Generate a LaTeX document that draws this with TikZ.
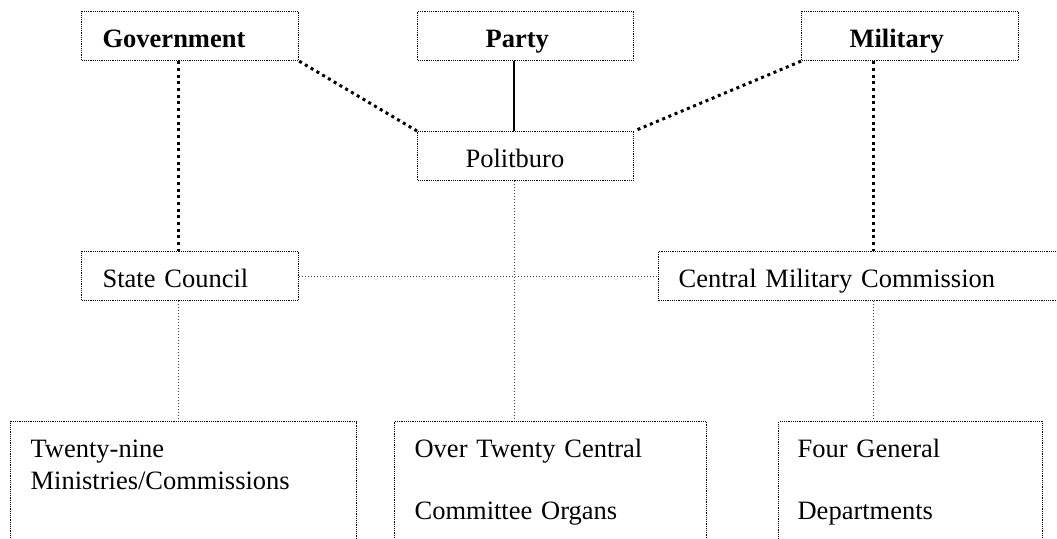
\documentclass[tikz,border=0pt]{standalone}
\usepackage{fontspec}
\setmainfont{Liberation Serif}
\usepackage{tikz}
\tikzstyle{unit} = [draw,line width=1.2pt,dash pattern=on 1.2pt off 1pt,anchor=north west,inner ysep=0pt,inner xsep=20pt,text height=36pt,text depth=13pt,align=left,font=\fontsize{26.5}{32}\selectfont]
\tikzstyle{lowunit} = [unit,text depth=140pt]
\tikzstyle{heavy} = [line width=3pt,dash pattern=on 3pt off 3.7pt]
\tikzstyle{light} = [line width=0.9pt,black!75,dash pattern=on 1pt off 2pt]
\tikzstyle{firm} = [line width=1.3pt]

\begin{document}
\begin{tikzpicture}[x=1pt,y=-1pt]
	\useasboundingbox (0,0) rectangle (1057,538);
	\clip (0,0) rectangle (1057,538);
	
	% Top row:
	\node[unit,inner xsep=21pt,text width=175pt] (gov) at (81,11) {\textbf{Government}};
	\node[unit,inner xsep=68pt,text width=80pt] (party) at (417,11) {\textbf{Party}};
	\node[unit,inner xsep=48pt,text width=121pt] (mil) at (801,11) {\textbf{Military}};
	
	\node[unit,inner xsep=48pt,text width=120pt] (pol) at (417,131) {Politburo};
	
	% Middle row:
	\node[unit,inner xsep=21pt,text width=175pt] (sc) at (81,251) {State Council};
	\node[unit,text width=372pt] (cmc) at (658,251) {Central Military Commission};
	
	% Bottom row:
	% The boxes run past the lower edge, the clip cuts them off
	\node[lowunit,text width=306pt] (mins) at (10,421) {Twenty-nine\\Ministries/Commissions};
	\node[lowunit,text width=272pt] (organs) at (394,421) {Over Twenty Central\\[30pt]Committee Organs};
	\node[lowunit,inner xsep=19pt,text width=226pt] (depts) at (778,421) {Four General\\[30pt]Departments};
	
	% Connectors:
	\coordinate (govx) at (178,0);
	\coordinate (partyx) at (514,0);
	\coordinate (milx) at (873.5,0);
	
	\draw[heavy] (gov.south -| govx) -- (sc.north -| govx);
	\draw[heavy] (mil.south -| milx) -- (cmc.north -| milx);
	\draw[heavy] (gov.south east) -- (pol.north west);
	\draw[heavy] (mil.south west) -- (pol.north east);
	\draw[firm] (party.south -| partyx) -- (pol.north -| partyx);
	
	\draw[light] (pol.south -| partyx) -- (organs.north -| partyx);
	\draw[light] (sc.east) -- (cmc.west);
	\draw[light] (sc.south -| govx) -- (mins.north -| govx);
	\draw[light] (cmc.south -| milx) -- (depts.north -| milx);
	
\end{tikzpicture}
\end{document}
